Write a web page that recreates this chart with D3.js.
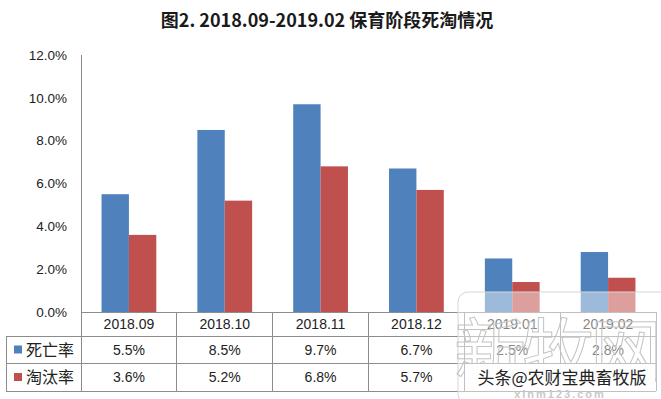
<!DOCTYPE html>
<html>
<head>
<meta charset="utf-8">
<script src="https://cdn.jsdelivr.net/npm/d3@7"></script>
<style>
  html, body { margin: 0; padding: 0; background: #fff; }
  svg { display: block; }
</style>
</head>
<body>
<div id="chart"></div>
<script>
const categories = ["2018.09", "2018.10", "2018.11", "2018.12", "2019.01", "2019.02"];
const seriesNames = ["死亡率", "淘汰率"];
const deathRate = [5.5, 8.5, 9.7, 6.7, 2.5, 2.8];
const cullRate = [3.6, 5.2, 6.8, 5.7, 1.4, 1.6];
const yTicks = [0, 2, 4, 6, 8, 10, 12];
const titleText = "图2. 2018.09-2019.02 保育阶段死淘情况";

const width = 661;
const height = 399;
const colors = ["#4F81BD", "#C0504D"];
const lineColor = "#8c8c8c";
const latin = "'Liberation Sans', Arial, sans-serif";
const cjk = "'Noto Sans CJK SC', sans-serif";

const plotLeft = 81, plotRight = 656, plotTop = 55, plotBottom = 312;
const tableLeft = 6;
const rowLines = [plotBottom, 336, 363, 391];

const series = [deathRate, cullRate];

const svg = d3.select("#chart").append("svg")
  .attr("width", width)
  .attr("height", height);

// title
svg.append("text")
  .attr("x", 327)
  .attr("y", 27)
  .attr("text-anchor", "middle")
  .attr("font-family", cjk)
  .attr("font-weight", "bold")
  .attr("font-size", 18)
  .attr("fill", "#1a1a1a")
  .text(titleText);

const x0 = d3.scaleBand().domain(categories).range([plotLeft, plotRight]);
const x1 = d3.scaleBand().domain(d3.range(seriesNames.length))
  .range([0, x0.bandwidth()]).paddingInner(0).paddingOuter(0.75);
const y = d3.scaleLinear().domain([0, 12]).range([plotBottom, plotTop]);

// y axis labels
const yAxis = d3.axisLeft(y)
  .tickValues(yTicks)
  .tickSize(0)
  .tickPadding(14)
  .tickFormat(d => d.toFixed(1) + "%");
const gy = svg.append("g")
  .attr("transform", `translate(${plotLeft},0)`)
  .call(yAxis);
gy.select(".domain").remove();
gy.selectAll("text")
  .attr("font-family", latin)
  .attr("font-size", 13.5)
  .attr("fill", "#222");

// bars
const groups = svg.append("g").selectAll("g")
  .data(categories)
  .join("g")
  .attr("transform", d => `translate(${x0(d)},0)`);
groups.selectAll("rect")
  .data((d, i) => series.map((s, k) => ({ k, v: s[i] })))
  .join("rect")
  .attr("x", d => x1(d.k))
  .attr("width", x1.bandwidth())
  .attr("y", d => y(d.v))
  .attr("height", d => y(0) - y(d.v))
  .attr("fill", d => colors[d.k]);

// axis line + table grid
const grid = svg.append("g")
  .attr("stroke", lineColor)
  .attr("stroke-width", 1)
  .attr("shape-rendering", "crispEdges");
grid.append("line")
  .attr("x1", plotLeft).attr("x2", plotLeft)
  .attr("y1", plotTop).attr("y2", rowLines[3]);
grid.append("line")
  .attr("x1", plotLeft).attr("x2", plotRight)
  .attr("y1", plotBottom).attr("y2", plotBottom);
rowLines.slice(1).forEach(ry => {
  grid.append("line")
    .attr("x1", tableLeft).attr("x2", plotRight)
    .attr("y1", ry).attr("y2", ry);
});
grid.append("line")
  .attr("x1", tableLeft).attr("x2", tableLeft)
  .attr("y1", rowLines[1]).attr("y2", rowLines[3]);
categories.forEach(c => {
  const xr = x0(c) + x0.bandwidth();
  grid.append("line")
    .attr("x1", xr).attr("x2", xr)
    .attr("y1", plotBottom).attr("y2", rowLines[3]);
});

// category header row
svg.append("g").selectAll("text")
  .data(categories)
  .join("text")
  .attr("x", d => x0(d) + x0.bandwidth() / 2)
  .attr("y", (rowLines[0] + rowLines[1]) / 2 + 5)
  .attr("text-anchor", "middle")
  .attr("font-family", latin)
  .attr("font-size", 14)
  .attr("fill", "#222")
  .text(d => d);

// value rows
series.forEach((s, k) => {
  const cy = (rowLines[k + 1] + rowLines[k + 2]) / 2;
  svg.append("rect")
    .attr("x", 14).attr("y", cy - 4)
    .attr("width", 8).attr("height", 8)
    .attr("fill", colors[k]);
  svg.append("text")
    .attr("x", 26).attr("y", cy + 6)
    .attr("font-family", cjk)
    .attr("font-size", 16)
    .attr("fill", "#222")
    .text(seriesNames[k]);
  svg.append("g").selectAll("text")
    .data(s)
    .join("text")
    .attr("x", (d, i) => x0(categories[i]) + x0.bandwidth() / 2)
    .attr("y", cy + 5)
    .attr("text-anchor", "middle")
    .attr("font-family", latin)
    .attr("font-size", 14)
    .attr("fill", "#222")
    .text(d => d.toFixed(1) + "%");
});

// watermark overlay (as seen in source image)
const wm = svg.append("g");
wm.append("rect")
  .attr("x", 458).attr("y", 292)
  .attr("width", 215).attr("height", 112)
  .attr("rx", 10)
  .attr("fill", "#fff")
  .attr("fill-opacity", 0.45)
  .attr("stroke", "#d6d6d6");
wm.append("text")
  .attr("x", 556).attr("y", 378)
  .attr("text-anchor", "middle")
  .attr("font-family", cjk)
  .attr("font-size", 72)
  .attr("letter-spacing", -4)
  .attr("fill", "none")
  .attr("stroke", "#c4c4c4")
  .attr("stroke-width", 1)
  .text("新牧网");
wm.append("rect")
  .attr("x", 465).attr("y", rowLines[2] + 1)
  .attr("width", 190).attr("height", rowLines[3] - rowLines[2] - 1)
  .attr("fill", "#fff")
  .attr("fill-opacity", 0.92);
wm.append("text")
  .attr("x", 562).attr("y", 384)
  .attr("text-anchor", "middle")
  .attr("font-family", cjk)
  .attr("font-size", 17)
  .attr("fill", "#222")
  .text("头条@农财宝典畜牧版");
wm.append("text")
  .attr("x", 560).attr("y", 398)
  .attr("text-anchor", "middle")
  .attr("font-family", latin)
  .attr("font-weight", "bold")
  .attr("font-size", 11)
  .attr("letter-spacing", 2)
  .attr("fill", "#c8c8c8")
  .text("xinm123.com");
</script>
</body>
</html>
